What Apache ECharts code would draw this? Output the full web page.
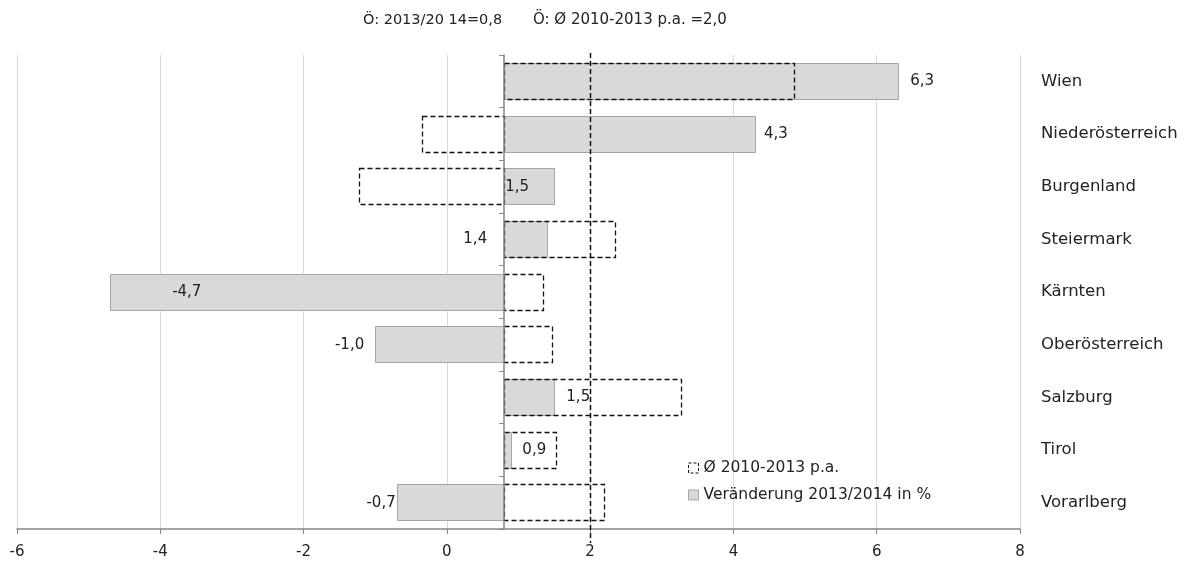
<!DOCTYPE html>
<html>
<head>
<meta charset="utf-8">
<title>Bundesländer 2013/2014</title>
<script type="text/javascript" src="https://cdn.jsdelivr.net/npm/echarts/dist/echarts.min.js"></script>
<style>
  html, body { margin: 0; padding: 0; background: #fff; }
  #chart { width: 1189px; height: 566px; }
</style>
</head>
<body>
<div id="chart"></div>
<script type="text/javascript">

// Daten
var categories = ['Wien', 'Niederösterreich', 'Burgenland', 'Steiermark', 'Kärnten', 'Oberösterreich', 'Salzburg', 'Tirol', 'Vorarlberg'];
var change2014 = [6.3, 4.3, 1.5, 1.4, -4.7, -1.0, 1.5, 0.9, -0.7];   // Veränderung 2013/2014 in %
var avg2010_2013 = [4.85, -0.35, -1.23, 2.35, 1.35, 1.47, 3.27, 1.53, 2.2];   // Ø 2010-2013 p.a.
var austria2014 = 0.8;   // Ö: 2013/2014
var austriaAvg = 2.0;    // Ö: Ø 2010-2013 p.a.
var xTicks = [-6, -4, -2, 0, 2, 4, 6, 8];

var nameAvg = 'Ø 2010-2013 p.a.';
var nameChange = 'Veränderung 2013/2014 in %';

var FONT = 'DejaVu Sans';
var FS = 15;

// wo die Werte-Labels sitzen (wie im Excel handplatziert): anker, px-versatz
var labelLayout = [['end', 12], ['end', 9], ['base', 1], ['base', -17], ['end', 62], ['end', -11], ['end', 12], ['end', 11], ['end', -1]];

function fmt(v) {
	return v.toFixed(1).replace('.', ',');
}

var chart = echarts.init(document.getElementById('chart'));

function barRect(api, v, i, ratio) {
	var a = api.coord([austria2014, i]);
	var b = api.coord([v, i]);
	var h = api.size([0, 1])[1] * ratio;
	return {
		x: Math.round(Math.min(a[0], b[0])) + 0.5,
		y: Math.round(a[1] - h / 2) + 0.5,
		width: Math.round(Math.abs(b[0] - a[0])),
		height: Math.round(h)
	};
}

var changeData = change2014.map(function (v, i) { return [i, v]; });
var avgData = avg2010_2013.map(function (v, i) { return [i, v]; });

chart.setOption({
	animation: false,
	textStyle: { fontFamily: FONT },
	grid: { left: 17, right: 169, top: 55, bottom: 37 },
	legend: {
		orient: 'vertical',
		left: 683,
		top: 455,
		itemWidth: 10,
		itemHeight: 10,
		itemGap: 11,
		textStyle: { fontFamily: FONT, fontSize: 15.5, color: '#222' },
		data: [
			{ name: nameAvg, icon: 'rect', itemStyle: { color: '#fff', borderColor: '#111', borderWidth: 1, borderType: [3, 2] } },
			{ name: nameChange, icon: 'rect', itemStyle: { color: '#d9d9d9', borderColor: '#a6a6a6', borderWidth: 1 } }
		]
	},
	graphic: [
		{ type: 'text', left: 363, top: 13, style: { text: 'Ö: 2013/20 14=0,8', font: '14.5px ' + FONT, fill: '#222' } },
		{ type: 'text', left: 533, top: 13, style: { text: 'Ö: Ø 2010-2013 p.a. =2,0', font: '15px ' + FONT, fill: '#222' } }
	],
	xAxis: [{
		type: 'value',
		min: xTicks[0],
		max: xTicks[xTicks.length - 1],
		interval: 2,
		axisLine: { show: true, lineStyle: { color: '#868686', width: 1.5 } },
		axisTick: { show: true, length: 5, lineStyle: { color: '#868686', width: 1 } },
		axisLabel: { margin: 16, fontSize: FS, color: '#222', fontFamily: FONT },
		splitLine: { show: true, lineStyle: { color: '#d9d9d9', width: 1 } }
	}, {
		// versteckte hilfsachse, damit die kategorienachse bei 0,8 liegt
		type: 'value',
		min: xTicks[0] - austria2014,
		max: xTicks[xTicks.length - 1] - austria2014,
		show: false
	}],
	yAxis: [{
		type: 'category',
		data: categories,
		inverse: true,
		z: 5,
		axisLine: { show: true, onZero: true, onZeroAxisIndex: 1, lineStyle: { color: '#868686', width: 1.5 } },
		axisTick: { show: true, length: 5, lineStyle: { color: '#868686', width: 1 } },
		axisLabel: { show: false },
		splitLine: { show: false }
	}, {
		type: 'category',
		data: categories,
		inverse: true,
		position: 'right',
		axisLine: { show: false, onZero: false },
		axisTick: { show: false },
		axisLabel: { margin: 21, fontSize: 16.5, color: '#222', fontFamily: FONT, align: 'left' },
		splitLine: { show: false }
	}],
	series: [{
		name: nameChange,
		type: 'custom',
		xAxisIndex: 0,
		yAxisIndex: 0,
		encode: { x: 1, y: 0 },
		data: changeData,
		renderItem: function (params, api) {
			return {
				type: 'rect',
				shape: barRect(api, api.value(1), api.value(0), 0.69),
				style: { fill: '#d9d9d9', stroke: '#a6a6a6', lineWidth: 1 }
			};
		}
	}, {
		name: nameAvg,
		type: 'custom',
		xAxisIndex: 0,
		yAxisIndex: 0,
		encode: { x: 1, y: 0 },
		data: avgData,
		renderItem: function (params, api) {
			return {
				type: 'rect',
				shape: barRect(api, api.value(1), api.value(0), 0.69),
				style: { fill: 'none', stroke: '#111', lineWidth: 1.3, lineDash: [5, 3] }
			};
		}
	}, {
		// Ö-durchschnitt als gestrichelte senkrechte
		name: 'oe_avg',
		type: 'custom',
		xAxisIndex: 0,
		yAxisIndex: 0,
		encode: { x: 0, y: 1 },
		clip: false,
		data: [[austriaAvg, 0]],
		renderItem: function (params, api) {
			var x = Math.round(api.coord([api.value(0), 0])[0]) + 0.5;
			var top = params.coordSys.y;
			var bottom = params.coordSys.y + params.coordSys.height;
			return {
				type: 'line',
				shape: { x1: x, y1: top - 2, x2: x, y2: bottom + 14 },
				style: { stroke: '#111', lineWidth: 1.5, lineDash: [5, 3] }
			};
		}
	}, {
		// werte-labels
		name: 'labels',
		type: 'custom',
		xAxisIndex: 0,
		yAxisIndex: 0,
		encode: { x: 1, y: 0 },
		data: changeData,
		renderItem: function (params, api) {
			var i = api.value(0);
			var v = api.value(1);
			var lay = labelLayout[i];
			var anchor = api.coord([lay[0] === 'end' ? v : austria2014, i]);
			var dx = lay[1];
			// negativer versatz -> rechtsbündig links vom anker
			return {
				type: 'text',
				z2: 10,
				style: {
					text: fmt(v),
					x: anchor[0] + dx,
					y: anchor[1],
					align: dx < 0 ? 'right' : 'left',
					verticalAlign: 'middle',
					font: FS + 'px ' + FONT,
					fill: '#222'
				}
			};
		}
	}]
});
</script>
</body>
</html>
